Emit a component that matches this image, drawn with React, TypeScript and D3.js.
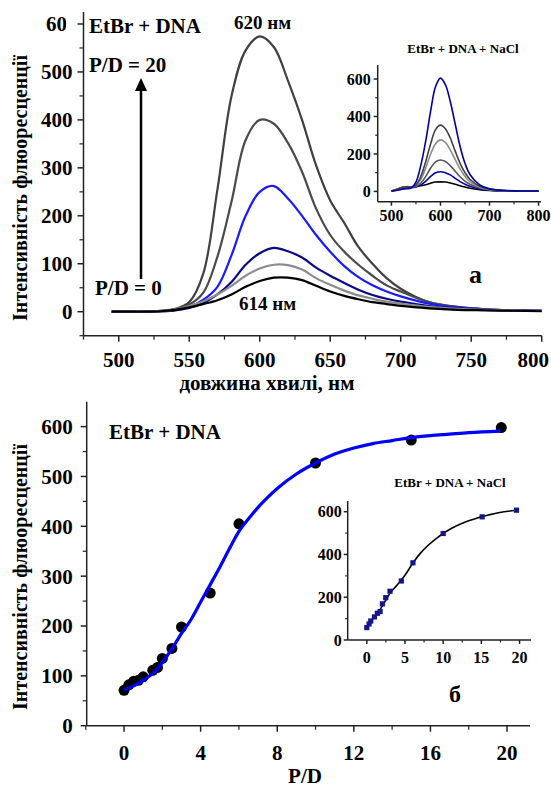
import React from "react";
import * as d3 from "d3";

// ---------- Panel (а): fluorescence spectra ----------
const wavelengths = [495, 510, 520, 530, 540, 550, 560, 570, 580, 590, 600, 610, 620, 630, 640, 650, 660, 670, 680, 690, 700, 720, 740, 760, 780, 800];
const specPD20 = [0, 0, 1, 2, 6, 20, 80, 255, 450, 545, 574, 552, 482, 400, 305, 232, 185, 135, 100, 70, 48, 20, 10, 5, 3, 2];
const specB = [0, 0, 1, 2, 5, 15, 40, 115, 230, 358, 400, 392, 352, 292, 215, 160, 125, 98, 75, 55, 42, 20, 10, 5, 3, 2];
const specC = [0, 0, 0, 1, 3, 10, 25, 52, 118, 200, 250, 262, 236, 200, 160, 125, 95, 72, 55, 42, 32, 17, 9, 5, 3, 2];
const specD = [0, 0, 0, 1, 3, 8, 18, 36, 62, 98, 122, 133, 126, 113, 92, 75, 60, 46, 35, 27, 21, 12, 7, 4, 3, 2];
const specE = [0, 0, 0, 1, 5, 12, 22, 36, 54, 75, 90, 98, 97, 88, 70, 56, 44, 34, 27, 21, 17, 10, 6, 4, 3, 2];
const specPD0 = [0, 0, 0, 1, 4, 9, 16, 24, 36, 52, 64, 71, 71, 66, 54, 42, 33, 26, 20, 16, 12, 7, 4, 3, 2, 1];
const spectra = [specPD20, specB, specC, specD, specE, specPD0];
const spectraColors = ["#404040", "#4a4a4a", "#1a1aff", "#0a0a85", "#8c8c8c", "#000000"];

const mainXTicks = [500, 550, 600, 650, 700, 750, 800];
const mainXMinor = [475, 525, 575, 625, 675, 725, 775];
const mainYTicks = [0, 100, 200, 300, 400, 500, 600];
const mainYMinor = [-50, 50, 150, 250, 350, 450, 550];

// inset (а): EtBr + DNA + NaCl
const insetWl = [500, 510, 520, 530, 540, 550, 560, 570, 580, 590, 600, 610, 620, 630, 640, 650, 660, 680, 700, 720, 750, 800];
const insA = [2, 5, 10, 14, 18, 50, 140, 270, 430, 560, 605, 570, 480, 360, 240, 150, 90, 35, 14, 7, 3, 2];
const insB = [2, 10, 20, 24, 22, 35, 80, 160, 255, 330, 354, 335, 285, 215, 150, 100, 65, 28, 12, 6, 3, 2];
const insC = [2, 10, 20, 24, 22, 32, 65, 125, 200, 255, 275, 262, 222, 170, 120, 80, 52, 22, 10, 5, 3, 2];
const insD = [2, 10, 20, 24, 22, 28, 45, 80, 125, 158, 168, 160, 138, 108, 78, 55, 38, 18, 8, 4, 2, 1];
const insE = [2, 8, 16, 20, 20, 24, 35, 55, 80, 100, 105, 100, 88, 70, 52, 38, 27, 13, 6, 3, 2, 1];
const insF = [2, 10, 20, 25, 25, 26, 30, 36, 44, 50, 51, 50, 45, 38, 30, 23, 17, 9, 5, 3, 2, 1];
const insetSpectra = [insF, insE, insD, insC, insB, insA];
const insetColors = ["#000000", "#0000b0", "#555555", "#8c8c8c", "#404040", "#0000a0"];
const insXTicks = [500, 600, 700, 800];
const insXMinor = [550, 650, 750];
const insYTicks = [0, 200, 400, 600];
const insYMinor = [100, 300, 500];

// ---------- Panel (б): titration ----------
const pdValues = [0, 0.25, 0.5, 0.75, 1, 1.5, 1.75, 2, 2.5, 3, 4.5, 6, 10, 15, 19.7];
const intensity = [71, 82, 89, 91, 98, 111, 117, 135, 155, 198, 266, 405, 527, 573, 598];
const fitPD = [0, 0.5, 1, 1.5, 2, 2.5, 3, 3.5, 4, 4.5, 5, 5.5, 6, 6.5, 7, 7.5, 8, 9, 10, 11, 12, 13, 14, 15, 16, 17, 18, 19.65];
const fitVal = [72, 80, 91, 105, 127, 154, 185, 213, 248, 283, 318, 355, 390, 415, 438, 458, 476, 505, 527, 545, 557, 566, 572, 578, 582, 585, 588, 591];
const botXTicks = [0, 4, 8, 12, 16, 20];
const botXMinor = [-2, 2, 6, 10, 14, 18];
const botYTicks = [0, 100, 200, 300, 400, 500, 600];
const botYMinor = [50, 150, 250, 350, 450, 550];

// inset (б)
const insPD = [0, 0.3, 0.52, 1.0, 1.38, 1.74, 2.04, 2.48, 3.04, 4.52, 6.04, 10, 15.1, 19.6];
const insInt = [58, 75, 89, 108, 125, 133, 169, 198, 228, 276, 361, 498, 576, 607];
const insFitPD = [0, 0.5, 1, 1.5, 2, 2.5, 3, 4, 4.5, 5, 6, 7, 8, 9, 10, 11, 12.5, 14, 15, 16, 17.4, 19.6];
const insFitVal = [60, 85, 108, 130, 157, 187, 217, 258, 280, 303, 358, 405, 442, 472, 498, 520, 546, 565, 576, 585, 596, 607];
const insBXTicks = [0, 5, 10, 15, 20];
const insBXMinor = [2.5, 7.5, 12.5, 17.5];
const insBYTicks = [0, 200, 400, 600];
const insBYMinor = [100, 300, 500];

const FONT = "'Liberation Serif', 'Times New Roman', serif";
const AX = "#222";

type Lin = d3.ScaleLinear<number, number>;

function Axes(props: {
  x: Lin; y: Lin; xTicks: number[]; xMinor: number[]; yTicks: number[]; yMinor: number[];
  fs: number; maj: number; min: number; xLabelDy: number; yLabelDx: number; yClipTop?: boolean; lastXEnd?: number;
}) {
  const { x, y, xTicks, xMinor, yTicks, yMinor, fs, maj, min, xLabelDy, yLabelDx } = props;
  const [x0, x1] = x.range();
  const [y0, y1] = y.range();
  return (
    <g>
      <line x1={x0} x2={x0} y1={y0} y2={y1} stroke={AX} strokeWidth={1.5} />
      <line x1={x0} x2={x1} y1={y0} y2={y0} stroke={AX} strokeWidth={1.5} />
      {xTicks.map((t, i) => {
        const last = i === xTicks.length - 1 && props.lastXEnd !== undefined;
        return (
          <g key={"xt" + t}>
            <line x1={x(t)} x2={x(t)} y1={y0} y2={y0 + maj} stroke={AX} strokeWidth={1.5} />
            <text x={last ? props.lastXEnd : x(t)} y={y0 + xLabelDy} textAnchor={last ? "end" : "middle"}
              fontSize={fs} fontWeight="bold" fontFamily={FONT}>{t}</text>
          </g>
        );
      })}
      {xMinor.map((t) => (
        <line key={"xm" + t} x1={x(t)} x2={x(t)} y1={y0} y2={y0 + min} stroke={AX} strokeWidth={1.2} />
      ))}
      {yTicks.map((t, i) => {
        const top = props.yClipTop && i === yTicks.length - 1;
        return (
          <g key={"yt" + t}>
            <line x1={x0} x2={x0 - maj} y1={y(t)} y2={y(t)} stroke={AX} strokeWidth={1.5} />
            <text x={x0 - yLabelDx + (top ? 5 : 0)} y={y(t)} dy="0.35em" textAnchor="end" fontSize={fs} fontWeight="bold"
              fontFamily={FONT} clipPath={top ? "url(#clipTop)" : undefined}>{t}</text>
          </g>
        );
      })}
      {yMinor.map((t) => (
        <line key={"ym" + t} x1={x0} x2={x0 - min} y1={y(t)} y2={y(t)} stroke={AX} strokeWidth={1.2} />
      ))}
    </g>
  );
}

export default function App() {
  // Panel а
  const xA = d3.scaleLinear().domain([475, 800]).range([83.5, 541.7]);
  const yA = d3.scaleLinear().domain([-50, 625]).range([335.7, 12]);
  const lineA = d3.line<number>().x((_, i) => xA(wavelengths[i])).y((v) => yA(v)).curve(d3.curveCatmullRom);

  const xAi = d3.scaleLinear().domain([472, 805]).range([377.7, 541]);
  const yAi = d3.scaleLinear().domain([-55, 675]).range([201.7, 65]);
  const lineAi = d3.line<number>().x((_, i) => xAi(insetWl[i])).y((v) => yAi(v)).curve(d3.curveCatmullRom);

  // Panel б
  const xB = d3.scaleLinear().domain([-1.95, 21.2]).range([86.7, 530]);
  const yB = d3.scaleLinear().domain([0, 650]).range([725.7, 401.7]);
  const fitLine = d3.line<number>().x((_, i) => xB(fitPD[i])).y((v) => yB(v)).curve(d3.curveMonotoneX);

  const xBi = d3.scaleLinear().domain([-2.5, 21.5]).range([347.7, 531]);
  const yBi = d3.scaleLinear().domain([0, 650]).range([640, 501]);
  const insFitLine = d3.line<number>().x((_, i) => xBi(insFitPD[i])).y((v) => yBi(v)).curve(d3.curveMonotoneX);

  return (
    <svg width={551} height={787} style={{ position: "absolute", left: 0, top: 0, background: "#fff" }} fontFamily={FONT}>
      <defs>
        <clipPath id="clipTop">
          <rect x={0} y={0} width={66} height={60} />
        </clipPath>
      </defs>
      <rect width={551} height={787} fill="#fff" />

      {/* ===== Panel а ===== */}
      <Axes x={xA} y={yA} xTicks={mainXTicks} xMinor={mainXMinor} yTicks={mainYTicks} yMinor={mainYMinor}
        fs={21} maj={6} min={4} xLabelDy={31} yLabelDx={11} yClipTop lastXEnd={549} />
      {spectra.map((s, i) => (
        <path key={"sp" + i} d={lineA(s) || ""} fill="none" stroke={spectraColors[i]} strokeWidth={2.2} />
      ))}
      <text x={267} y={390} textAnchor="middle" fontSize={21} fontWeight="bold">довжина хвилі, нм</text>
      <text transform="translate(27,188) rotate(-90)" textAnchor="middle" fontSize={20} fontWeight="bold">Інтенсивність флюоресценції</text>
      <text x={89} y={33} fontSize={21} fontWeight="bold">EtBr + DNA</text>
      <text x={89} y={71.5} fontSize={21} fontWeight="bold">P/D = 20</text>
      <text x={95} y={295} fontSize={21} fontWeight="bold">P/D = 0</text>
      <text x={234} y={28.5} fontSize={19} fontWeight="bold">620 нм</text>
      <text x={239} y={310} fontSize={19} fontWeight="bold">614 нм</text>
      <text x={469} y={282.7} fontSize={26} fontWeight="bold">а</text>
      <line x1={141} x2={141} y1={279} y2={88} stroke="#000" strokeWidth={2.5} />
      <polygon points="135,91 147,91 141,78" fill="#000" />

      {/* inset а */}
      <Axes x={xAi} y={yAi} xTicks={insXTicks} xMinor={insXMinor} yTicks={insYTicks} yMinor={insYMinor}
        fs={16} maj={4} min={2.5} xLabelDy={19} yLabelDx={7} />
      {insetSpectra.map((s, i) => (
        <path key={"is" + i} d={lineAi(s) || ""} fill="none" stroke={insetColors[i]} strokeWidth={1.6} />
      ))}
      <text x={463} y={53} textAnchor="middle" fontSize={13} fontWeight="bold">EtBr + DNA + NaCl</text>

      {/* ===== Panel б ===== */}
      <Axes x={xB} y={yB} xTicks={botXTicks} xMinor={botXMinor} yTicks={botYTicks} yMinor={botYMinor}
        fs={21} maj={6} min={4} xLabelDy={34} yLabelDx={14} />
      {pdValues.map((p, i) => (
        <circle key={"pt" + i} cx={xB(p)} cy={yB(intensity[i])} r={5.5} fill="#000" />
      ))}
      <path d={fitLine(fitVal) || ""} fill="none" stroke="#0000ff" strokeWidth={3.2} />
      <text x={305} y={783} textAnchor="middle" fontSize={21} fontWeight="bold">P/D</text>
      <text transform="translate(27,577) rotate(-90)" textAnchor="middle" fontSize={20} fontWeight="bold">Інтенсивність флюоресценції</text>
      <text x={109} y={439} fontSize={21} fontWeight="bold">EtBr + DNA</text>
      <text x={449} y={701.7} fontSize={24} fontWeight="bold">б</text>

      {/* inset б */}
      <Axes x={xBi} y={yBi} xTicks={insBXTicks} xMinor={insBXMinor} yTicks={insBYTicks} yMinor={insBYMinor}
        fs={16} maj={4} min={2.5} xLabelDy={23} yLabelDx={6} />
      <path d={insFitLine(insFitVal) || ""} fill="none" stroke="#000" strokeWidth={1.6} />
      {insPD.map((p, i) => (
        <rect key={"sq" + i} x={xBi(p) - 2.6} y={yBi(insInt[i]) - 2.6} width={5.2} height={5.2} fill="#14148c" />
      ))}
      <text x={450} y={487} textAnchor="middle" fontSize={13} fontWeight="bold">EtBr + DNA + NaCl</text>
    </svg>
  );
}
